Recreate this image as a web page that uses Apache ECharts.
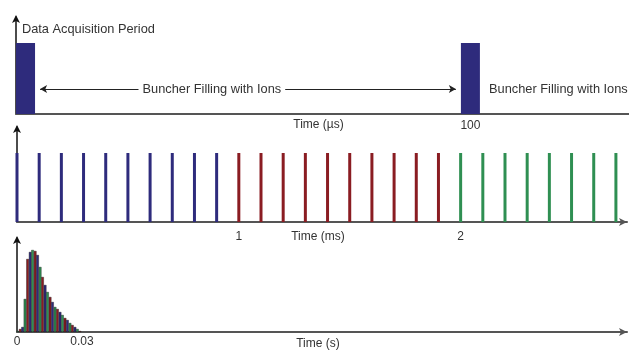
<!DOCTYPE html>
<html>
<head>
<meta charset="utf-8">
<script src="https://cdn.jsdelivr.net/npm/echarts@6/dist/echarts.min.js"></script>
<style>
  html, body { margin: 0; padding: 0; background: #fff; }
  #main { width: 629px; height: 350px; }
</style>
</head>
<body>
<div id="main"></div>
<script>
// panel 1: data acquisition pulses (µs)
var pulseCenters = [2.1, 100];
var pulseHeight = 71;
var fillArrowStart = 5.3, fillArrowEnd = 96.8, fillLevel = 25;
var fillLabelX = 43.1;
var secondFillX = 104.1;

// panel 2: pulses every 0.1 ms
var blueTimes = [0, 0.1, 0.2, 0.3, 0.4, 0.5, 0.6, 0.7, 0.8, 0.9];
var redTimes = [1.0, 1.1, 1.2, 1.3, 1.4, 1.5, 1.6, 1.7, 1.8, 1.9];
var greenTimes = [2.0, 2.1, 2.2, 2.3, 2.4, 2.5, 2.6, 2.7];
var spikeHeight = 69;

// panel 3: histogram (s)
var histTimes = [0.0004, 0.0015, 0.0026, 0.0037, 0.0049, 0.0061, 0.0072, 0.0084, 0.0095, 0.0107,
                 0.0118, 0.0130, 0.0141, 0.0153, 0.0164, 0.0176, 0.0187, 0.0199, 0.0210, 0.0222,
                 0.0233, 0.0245, 0.0256, 0.0268, 0.0279, 0.0291];
var histCounts = [1, 3, 5, 33, 73, 80, 82, 81, 77, 65,
                  55, 47, 40, 35, 30, 25, 23, 20, 17, 14,
                  12, 9, 7, 5, 3, 1];

var NAVY = '#2e2b7c', RED = '#8a1c22', GREEN = '#2f8f52';
var histColors = [GREEN, RED, NAVY];
var FONT = 'Liberation Sans';

function pair(xs, h) {
    return xs.map(function (x) { return [x, h]; });
}

var chart = echarts.init(document.getElementById('main'));

var yAxisBase = {
    type: 'value',
    axisLine: { show: true, lineStyle: { color: '#111', width: 1.5 }, symbol: ['none', 'arrow'],
                symbolSize: [6, 8], symbolOffset: [0, 2] },
    axisTick: { show: false },
    axisLabel: { show: false },
    splitLine: { show: false }
};

function xAxisBase(gridIndex, min, max, interval, labelFn, name, margin, nameGap, arrow) {
    return {
        type: 'value', gridIndex: gridIndex, min: min, max: max, interval: interval,
        axisLine: { show: true, onZero: false, lineStyle: { color: '#555', width: 2 },
                    symbol: arrow ? ['none', 'arrow'] : 'none', symbolSize: [6, 8] },
        axisTick: { show: false },
        splitLine: { show: false },
        axisLabel: { margin: margin, color: '#333', fontSize: 12, fontFamily: FONT, formatter: labelFn, showMaxLabel: false },
        name: name, nameLocation: 'middle', nameGap: nameGap, nameMoveOverlap: false,
        nameTextStyle: { color: '#333', fontSize: 12, fontFamily: FONT, verticalAlign: 'top', padding: [0, 8, 0, 0] }
    };
}

var option = {
    animation: false,
    backgroundColor: '#fff',
    grid: [
        { left: 16, right: 0, top: 17, height: 97, outerBoundsMode: 'none' },
        { left: 17, right: 2, top: 127, height: 95, outerBoundsMode: 'none' },
        { left: 17, right: 2, top: 238, height: 94, outerBoundsMode: 'none' }
    ],
    xAxis: [
        xAxisBase(0, 0, 134.9, 100, function (v) { return v === 100 ? '100' : ''; }, 'Time (µs)', 6, 5, false),
        xAxisBase(1, 0, 2.75, 1, function (v) { return (v === 1 || v === 2) ? String(v) : ''; }, 'Time (ms)', 9, 9, true),
        xAxisBase(2, 0, 0.282, 0.03, function (v) {
            if (v === 0) return '0';
            if (Math.abs(v - 0.03) < 1e-9) return '0.03';
            return '';
        }, 'Time (s)', 4, 6, true)
    ],
    yAxis: [
        Object.assign({ gridIndex: 0, min: 0, max: 97 }, yAxisBase),
        Object.assign({ gridIndex: 1, min: 0, max: 95 }, yAxisBase),
        Object.assign({ gridIndex: 2, min: 0, max: 94 }, yAxisBase)
    ],
    series: [
        {
            type: 'bar', xAxisIndex: 0, yAxisIndex: 0,
            data: pair(pulseCenters, pulseHeight),
            barWidth: 19,
            itemStyle: { color: NAVY },
            markLine: {
                silent: true,
                symbol: ['arrow', 'arrow'], symbolSize: [6, 7],
                lineStyle: { color: '#222', width: 1, type: 'solid' },
                label: { show: false },
                data: [[{ coord: [fillArrowStart, fillLevel] }, { coord: [fillArrowEnd, fillLevel] }]]
            },
            markPoint: {
                silent: true,
                symbol: 'circle', symbolSize: 0,
                label: { show: true, color: '#333', fontSize: 12.8, fontFamily: FONT },
                data: [
                    {
                        coord: [fillLabelX, fillLevel],
                        label: { position: 'inside', formatter: 'Buncher Filling with Ions', backgroundColor: '#fff', padding: [1, 4] }
                    },
                    { coord: [secondFillX, fillLevel], label: { position: 'right', distance: 0, formatter: 'Buncher Filling with Ions' } },
                    { coord: [1.3, 85], label: { position: 'right', distance: 0, formatter: 'Data Acquisition Period' } }
                ]
            }
        },
        {
            type: 'bar', xAxisIndex: 1, yAxisIndex: 1, barWidth: 3, barGap: '-100%',
            data: pair(blueTimes, spikeHeight), itemStyle: { color: NAVY }
        },
        {
            type: 'bar', xAxisIndex: 1, yAxisIndex: 1, barWidth: 3, barGap: '-100%',
            data: pair(redTimes, spikeHeight), itemStyle: { color: RED }
        },
        {
            type: 'bar', xAxisIndex: 1, yAxisIndex: 1, barWidth: 3, barGap: '-100%',
            data: pair(greenTimes, spikeHeight), itemStyle: { color: GREEN }
        },
        {
            type: 'bar', xAxisIndex: 2, yAxisIndex: 2, barWidth: 2.6,
            data: histTimes.map(function (t, i) { return [t, histCounts[i]]; }),
            itemStyle: {
                color: function (p) { return histColors[p.dataIndex % 3]; },
                borderColor: '#1a1a1a', borderWidth: 0.4
            }
        }
    ]
};

chart.setOption(option);
</script>
</body>
</html>
